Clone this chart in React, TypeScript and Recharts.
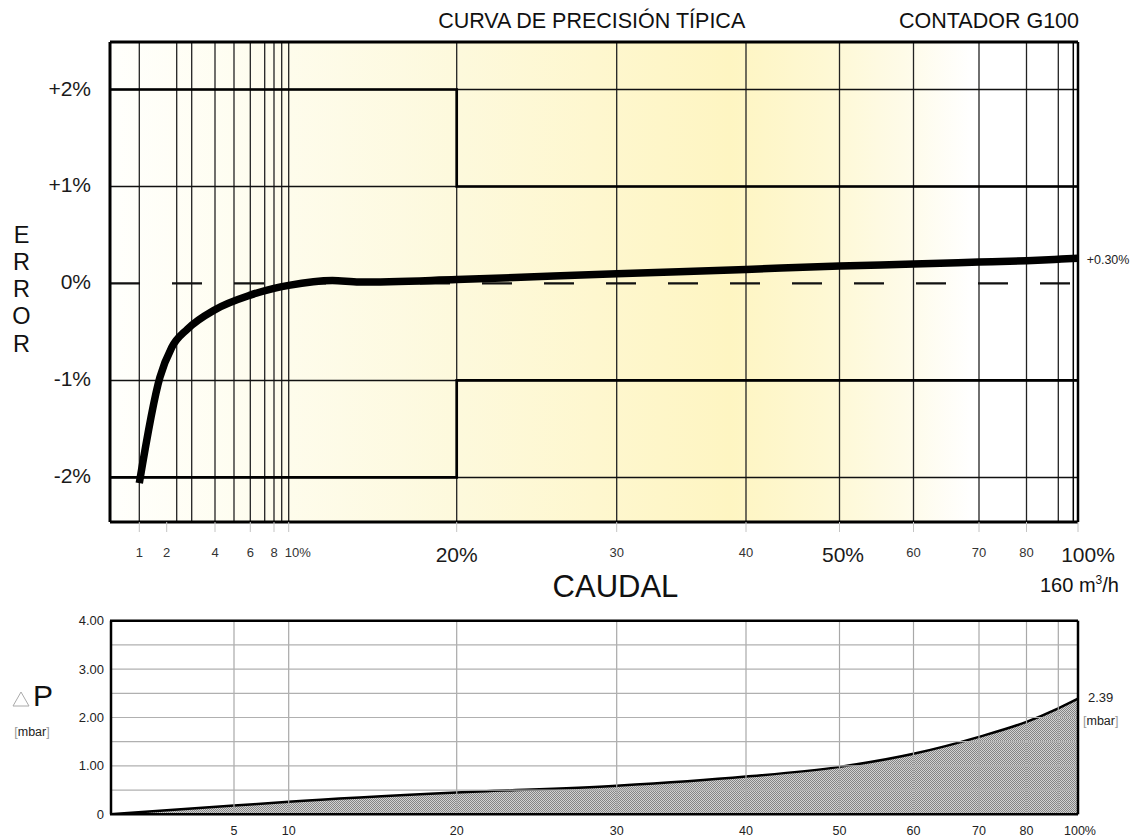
import React from "react";
import {
  LineChart,
  Line,
  AreaChart,
  Area,
  XAxis,
  YAxis,
  CartesianGrid,
  ReferenceLine,
} from "recharts";

const FONT = '"Liberation Sans", Arial, Helvetica, sans-serif';

// printed flow scale of the sheet (not linear, not log): flow % -> axis units
const scaleFlows = [0, 1, 2, 3, 4, 5, 6, 7, 8, 9, 10, 20, 30, 40, 50, 60, 70, 80, 90, 100];
const scaleUnits = [0, 29.3, 56.7, 81.7, 105, 124, 140.3, 154.7, 164, 171.7, 178.7, 346.7, 506.7, 636, 729.5, 803.5, 869, 916.5, 948.3, 968];
const AXIS_MAX = 968;

const flowTicks = [1, 2, 4, 6, 8, 10, 20, 30, 40, 50, 60, 70, 80, 100];
const flowTickLabels = ["1", "2", "4", "6", "8", "10%", "20%", "30", "40", "50%", "60", "70", "80", "100%"];
const flowGrid = [1, 2.4, 3, 4, 5, 6, 7, 8, 9, 10, 20, 30, 40, 50, 60, 70, 80, 90];

// error curve
const errorFlow = [1.0, 1.75, 2.2, 2.83, 4, 6, 8, 10, 12.6, 14.2, 20, 30, 40, 50, 60, 70, 80, 90, 100];
const errorPct = [-2.06, -0.97, -0.66, -0.47, -0.27, -0.12, -0.05, -0.02, 0.03, 0.015, 0.04, 0.1, 0.145, 0.18, 0.2, 0.22, 0.235, 0.25, 0.26];
const errorTicks = [-2, -1, 0, 1, 2];
const errorGrid = [-2, -1, 1, 2];

// max permissible error band
const limitFlow = [0, 20, 100];
const limitUpper = [2, 1, 1];
const limitLower = [-2, -1, -1];

// pressure drop
const dpFlow = [0, 5, 10, 20, 30, 40, 50, 60, 70, 80, 90, 100];
const dpValue = [0, 0.18, 0.26, 0.45, 0.59, 0.78, 0.98, 1.25, 1.6, 1.91, 2.19, 2.39];
const dpTicks = [0, 1, 2, 3, 4];
const dpTickLabels = ["0", "1.00", "2.00", "3.00", "4.00"];
const dpGrid = [0.5, 1, 1.5, 2, 2.5, 3, 3.5];
const dpFlowTicks = [5, 10, 20, 30, 40, 50, 60, 70, 80, 100];
const dpFlowLabels = ["5", "10", "20", "30", "40", "50", "60", "70", "80", "100%"];
const dpFlowGrid = [5, 10, 20, 30, 40, 50, 60, 70, 80, 90];

const ERR_MIN = -2.46;
const ERR_MAX = 2.49;

function toAxis(f: number) {
  for (let i = 0; i < scaleFlows.length - 1; i++) {
    const a = scaleFlows[i];
    const b = scaleFlows[i + 1];
    if (f <= b) {
      return scaleUnits[i] + ((f - a) / (b - a)) * (scaleUnits[i + 1] - scaleUnits[i]);
    }
  }
  return AXIS_MAX;
}

const errorData = errorFlow.map((f, i) => ({ x: toAxis(f), err: errorPct[i] }));
const upperData = limitFlow.map((f, i) => ({ x: toAxis(f), v: limitUpper[i] }));
const lowerData = limitFlow.map((f, i) => ({ x: toAxis(f), v: limitLower[i] }));
const dpData = dpFlow.map((f, i) => ({ x: toAxis(f), dp: dpValue[i] }));

const bigLabels = ["20%", "50%", "100%"];
const labelShift: Record<string, number> = { "10%": 9, "50%": 3.5, "100%": 10 };

function nearestIndex(list: number[], v: number) {
  let best = 0;
  list.forEach((t, i) => {
    if (Math.abs(toAxis(t) - v) < Math.abs(toAxis(list[best]) - v)) best = i;
  });
  return best;
}

function FlowTick(props: any) {
  const { x, y, payload } = props;
  const label = flowTickLabels[nearestIndex(flowTicks, payload.value)];
  const big = bigLabels.includes(label);
  return (
    <text
      x={x + (labelShift[label] || 0)}
      y={y + (big ? 29.7 : 25)}
      textAnchor="middle"
      fontFamily={FONT}
      fontSize={big ? 21 : 13}
      fill={big ? "#1a1a1a" : "#333"}
    >
      {label}
    </text>
  );
}

function ErrTick(props: any) {
  const { x, y, payload } = props;
  const v = payload.value;
  const label = v > 0 ? `+${v}%` : `${v}%`;
  return (
    <text x={x - 19} y={y + 6} textAnchor="end" fontFamily={FONT} fontSize={21} fill="#1a1a1a">
      {label}
    </text>
  );
}

function DpFlowTick(props: any) {
  const { x, y, payload } = props;
  const label = dpFlowLabels[nearestIndex(dpFlowTicks, payload.value)];
  return (
    <text x={x + (label === "100%" ? 2 : 0)} y={y + 20.7} textAnchor="middle" fontFamily={FONT} fontSize={12.5} fill="#222">
      {label}
    </text>
  );
}

function DpTick(props: any) {
  const { x, y, payload } = props;
  const label = dpTickLabels[dpTicks.indexOf(payload.value)];
  return (
    <text x={x - 6} y={y + 4.5} textAnchor="end" fontFamily={FONT} fontSize={13} fill="#222">
      {label}
    </text>
  );
}

function ErrorChart() {
  return (
    <LineChart width={1143} height={600} margin={{ top: 42, right: 65, bottom: 0, left: 0 }}>
      <defs>
        <linearGradient id="errBg" x1="0" y1="0" x2="1" y2="0">
          <stop offset="0" stopColor="#fffffc" />
          <stop offset="0.18" stopColor="#fefcec" />
          <stop offset="0.36" stopColor="#fdf9dc" />
          <stop offset="0.5" stopColor="#fef7cf" />
          <stop offset="0.64" stopColor="#fef5c2" />
          <stop offset="0.74" stopColor="#fef8d4" />
          <stop offset="0.82" stopColor="#fefbe8" />
          <stop offset="0.89" stopColor="#ffffff" />
          <stop offset="1" stopColor="#ffffff" />
        </linearGradient>
      </defs>
      <CartesianGrid horizontal={false} vertical={false} fill="url(#errBg)" fillOpacity={1} />
      <XAxis
        type="number"
        dataKey="x"
        domain={[0, AXIS_MAX]}
        ticks={flowTicks.map(toAxis)}
        interval={0}
        allowDataOverflow
        axisLine={false}
        tickLine={{ stroke: "#c4c4c4" }}
        tickSize={10}
        tickMargin={0}
        height={78}
        tick={FlowTick}
      />
      <YAxis
        type="number"
        domain={[ERR_MIN, ERR_MAX]}
        ticks={errorTicks}
        interval={0}
        allowDataOverflow
        width={110}
        axisLine={false}
        tickLine={false}
        tickSize={0}
        tickMargin={0}
        tick={ErrTick}
      />
      {flowGrid.map((f) => (
        <ReferenceLine key={`v${f}`} x={toAxis(f)} stroke="#222" strokeWidth={1.3} ifOverflow="visible" />
      ))}
      {errorGrid.map((v) => (
        <ReferenceLine key={`h${v}`} y={v} stroke="#111" strokeWidth={1.5} ifOverflow="visible" />
      ))}
      <ReferenceLine y={0} stroke="#111" strokeWidth={2.2} strokeDasharray="30 32" ifOverflow="visible" />
      <ReferenceLine x={0} stroke="#000" strokeWidth={3} ifOverflow="visible" />
      <ReferenceLine x={963.3} stroke="#000" strokeWidth={1.5} ifOverflow="visible" />
      <ReferenceLine x={AXIS_MAX} stroke="#000" strokeWidth={2.5} ifOverflow="visible" />
      <ReferenceLine y={ERR_MAX} stroke="#000" strokeWidth={3} ifOverflow="visible" />
      <ReferenceLine y={ERR_MIN} stroke="#000" strokeWidth={3} ifOverflow="visible" />
      <Line data={upperData} dataKey="v" type="stepAfter" stroke="#000" strokeWidth={2.7} dot={false} isAnimationActive={false} />
      <Line data={lowerData} dataKey="v" type="stepAfter" stroke="#000" strokeWidth={2.7} dot={false} isAnimationActive={false} />
      <Line
        data={errorData}
        dataKey="err"
        type="monotone"
        stroke="#000"
        strokeWidth={7.5}
        strokeLinecap="butt"
        dot={false}
        isAnimationActive={false}
      />
    </LineChart>
  );
}

function PressureChart() {
  return (
    <AreaChart width={1143} height={237} margin={{ top: 20.7, right: 65, bottom: 0, left: 0 }}>
      <defs>
        <pattern id="hatch" width="2" height="2" patternUnits="userSpaceOnUse">
          <rect width="2" height="2" fill="#d2d2d2" />
          <rect width="1" height="1" fill="#848484" />
          <rect x="1" y="1" width="1" height="1" fill="#848484" />
        </pattern>
      </defs>
      <XAxis
        type="number"
        dataKey="x"
        domain={[0, AXIS_MAX]}
        ticks={dpFlowTicks.map(toAxis)}
        interval={0}
        allowDataOverflow
        axisLine={false}
        tickLine={false}
        tickSize={0}
        tickMargin={0}
        height={22.7}
        tick={DpFlowTick}
      />
      <YAxis
        type="number"
        domain={[0, 4]}
        ticks={dpTicks}
        interval={0}
        allowDataOverflow
        width={110}
        axisLine={false}
        tickLine={false}
        tickSize={0}
        tickMargin={0}
        tick={DpTick}
      />
      {dpFlowGrid.map((f) => (
        <ReferenceLine key={`v${f}`} x={toAxis(f)} stroke="#a8a8a8" strokeWidth={1.2} ifOverflow="visible" />
      ))}
      {dpGrid.map((v) => (
        <ReferenceLine key={`h${v}`} y={v} stroke="#b0b0b0" strokeWidth={1.2} ifOverflow="visible" />
      ))}
      <Area
        data={dpData}
        dataKey="dp"
        type="monotone"
        stroke="#000"
        strokeWidth={2.5}
        fill="url(#hatch)"
        fillOpacity={1}
        dot={false}
        isAnimationActive={false}
      />
      <ReferenceLine x={1} stroke="#000" strokeWidth={2.5} ifOverflow="visible" />
      <ReferenceLine x={AXIS_MAX} stroke="#000" strokeWidth={2.5} ifOverflow="visible" />
      <ReferenceLine y={4} stroke="#000" strokeWidth={2.5} ifOverflow="visible" />
      <ReferenceLine y={0} stroke="#000" strokeWidth={2.5} ifOverflow="visible" />
    </AreaChart>
  );
}

export default function App() {
  const errorLetters = ["E", "R", "R", "O", "R"];
  const letterBase = [243.3, 270, 296.7, 323.5, 351.7];
  return (
    <div style={{ position: "absolute", left: 0, top: 0, width: 1143, height: 837, background: "#fff", overflow: "hidden" }}>
      <div style={{ position: "absolute", left: 0, top: 0 }}>
        <ErrorChart />
      </div>
      <div style={{ position: "absolute", left: 0, top: 600 }}>
        <PressureChart />
      </div>
      <svg
        width={1143}
        height={837}
        style={{ position: "absolute", left: 0, top: 0, pointerEvents: "none" }}
        fontFamily={FONT}
      >
        <text x={591.7} y={28.3} textAnchor="middle" fontSize={21.5} fill="#111">
          CURVA DE PRECISIÓN TÍPICA
        </text>
        <text x={1079} y={28.3} textAnchor="end" fontSize={21.5} fill="#111">
          CONTADOR G100
        </text>
        {errorLetters.map((l, i) => (
          <text key={i} x={21.5} y={letterBase[i]} textAnchor="middle" fontSize={23.5} fill="#111">
            {l}
          </text>
        ))}
        <text x={1086.7} y={263.5} fontSize={12.5} fill="#222">
          +0.30%
        </text>
        <text x={615.5} y={597.3} textAnchor="middle" fontSize={31} fill="#111">
          CAUDAL
        </text>
        <text x={1040} y={591.7} fontSize={20} fill="#111">
          160 m
          <tspan fontSize={12} dy={-8}>3</tspan>
          <tspan dy={8}>/h</tspan>
        </text>
        <polygon points="13,706 29,706 21,692" fill="none" stroke="#aaa" strokeWidth={1} />
        <text x={33} y={706} fontSize={30} fill="#111">
          P
        </text>
        <text x={32} y={736} textAnchor="middle" fontSize={12.5} fill="#222">
          <tspan fill="#999">[</tspan>mbar<tspan fill="#999">]</tspan>
        </text>
        <text x={1088} y={701.7} fontSize={13} fill="#222">
          2.39
        </text>
        <text x={1083} y={724.5} fontSize={12.5} fill="#222">
          <tspan fill="#999">[</tspan>mbar<tspan fill="#999">]</tspan>
        </text>
      </svg>
    </div>
  );
}
